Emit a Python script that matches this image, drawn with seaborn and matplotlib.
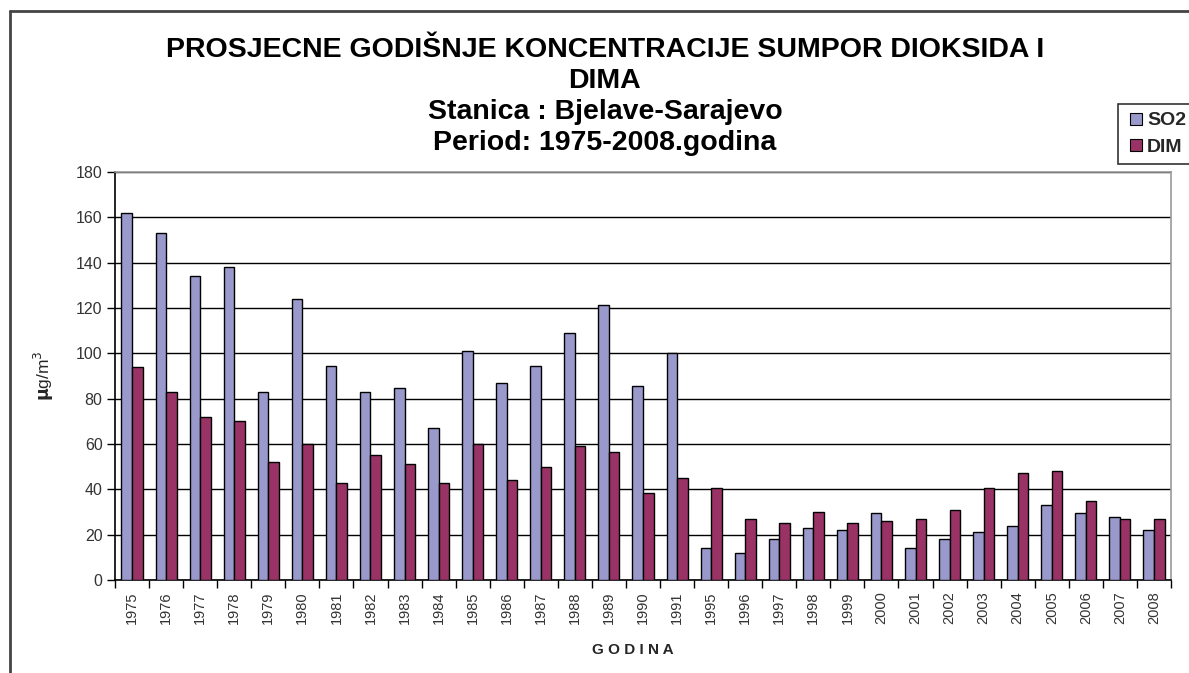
import pandas as pd
import matplotlib.pyplot as plt
import seaborn as sns
from matplotlib.lines import Line2D
from matplotlib.ticker import MultipleLocator, FixedLocator

# Annual average values
years = ['1975', '1976', '1977', '1978', '1979', '1980', '1981', '1982', '1983', '1984',
         '1985', '1986', '1987', '1988', '1989', '1990', '1991', '1995', '1996', '1997',
         '1998', '1999', '2000', '2001', '2002', '2003', '2004', '2005', '2006', '2007', '2008']
so2 = [162, 153, 134, 138, 83, 124, 94.5, 83, 84.5, 67,
       101, 87, 94.5, 109, 121.5, 85.5, 100, 14, 12, 18,
       23, 22, 29.5, 14, 18, 21, 24, 33, 29.5, 28, 22]
dim = [94, 83, 72, 70, 52, 60, 43, 55, 51, 43,
       60, 44, 50, 59, 56.5, 38.5, 45, 40.5, 27, 25,
       30, 25, 26, 27, 31, 40.5, 47, 48, 35, 27, 27]

df = pd.DataFrame({
    'Godina': years * 2,
    'value': so2 + dim,
    'serija': ['SO2'] * len(years) + ['DIM'] * len(years),
})

sns.set_style('white')
plt.rcParams['font.family'] = ['Liberation Sans', 'DejaVu Sans']

fig = plt.figure(figsize=(11.89, 6.73), dpi=100)
ax = fig.add_axes([115 / 1189, 1 - 580 / 673, (1171 - 115) / 1189, (580 - 172) / 673])

palette = {'SO2': '#9999cc', 'DIM': '#993366'}
sns.barplot(data=df, x='Godina', y='value', hue='serija', palette=palette,
            width=0.62, edgecolor='black', linewidth=1, saturation=1,
            dodge=True, ax=ax, legend=False, zorder=3)

ax.set_ylim(0, 180)
ax.set_xlim(-0.5, len(years) - 0.5)
ax.yaxis.set_major_locator(MultipleLocator(20))
ax.grid(axis='y', color='black', linewidth=1, zorder=0)
ax.grid(axis='x', visible=False)
ax.set_axisbelow(True)

for side in ['top', 'right']:
    ax.spines[side].set_color('#999999')
    ax.spines[side].set_linewidth(1.2)
for side in ['left', 'bottom']:
    ax.spines[side].set_color('black')
    ax.spines[side].set_linewidth(1.2)

ax.tick_params(axis='y', direction='out', length=6, width=1, color='black',
               labelsize=11.5, labelcolor='#333333', left=True, pad=3)
ax.tick_params(axis='x', which='major', length=0, labelsize=10.5,
               labelcolor='#333333', labelrotation=90, pad=8)
ax.xaxis.set_minor_locator(FixedLocator([i - 0.5 for i in range(len(years) + 1)]))
ax.tick_params(axis='x', which='minor', direction='out', length=6, width=1,
               color='black', bottom=True)

ax.set_xlabel('G O D I N A', fontsize=11, fontweight='bold')
ax.xaxis.set_label_coords((633 - 115) / (1171 - 115), -(650 - 580) / (580 - 172))
ax.xaxis.label.set_va('center')
ax.set_ylabel(r'$\mathbf{\mu}$g/m$^3$', fontsize=12.5, labelpad=14)

# Title
title_lines = ['PROSJECNE GODIŠNJE KONCENTRACIJE SUMPOR DIOKSIDA I', 'DIMA',
               'Stanica : Bjelave-Sarajevo', 'Period: 1975-2008.godina']
title_y = [50, 81, 112, 143]
for txt, yy in zip(title_lines, title_y):
    fig.text(605 / 1189, 1 - yy / 673, txt, ha='center', va='center',
             fontsize=20.5, fontweight='bold', color='black')

# Legend
handles = [Line2D([], [], marker='s', linestyle='none', markersize=8,
                  markerfacecolor=palette[k], markeredgecolor='black', markeredgewidth=0.8)
           for k in ['SO2', 'DIM']]
leg = fig.legend(handles, ['SO2', 'DIM'], loc='upper left',
                 bbox_to_anchor=(1118 / 1189, 1 - 104 / 673), borderaxespad=0,
                 frameon=True, fancybox=False, handletextpad=0.1, handlelength=1.0,
                 borderpad=0.4, labelspacing=0.45, prop={'weight': 'bold', 'size': 14})
leg.get_frame().set_edgecolor('black')
leg.get_frame().set_linewidth(1.2)

# Outer chart border (cut by image edges)
fig.add_artist(Line2D([10 / 1189, 10 / 1189], [0, 1 - 11 / 673],
                      transform=fig.transFigure, color='#444444', linewidth=2))
fig.add_artist(Line2D([10 / 1189, 1], [1 - 11 / 673, 1 - 11 / 673],
                      transform=fig.transFigure, color='#444444', linewidth=2))

fig.savefig('out.png', dpi=100)
